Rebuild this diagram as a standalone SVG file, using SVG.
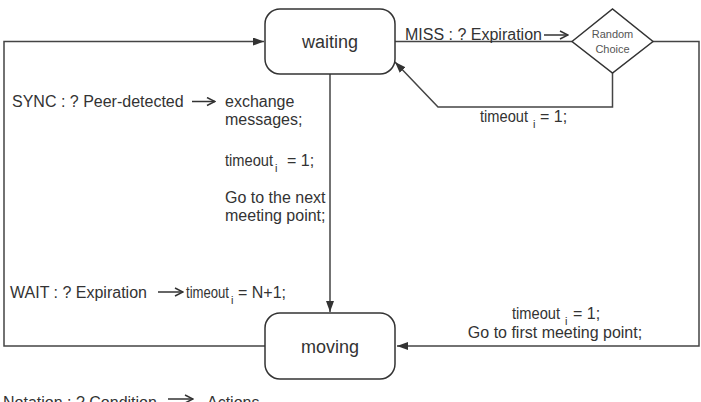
<svg xmlns="http://www.w3.org/2000/svg" width="701" height="402" viewBox="0 0 701 402">
<style>
.st{fill:#fff;stroke:#333;stroke-width:1.5}
.ln{fill:none;stroke:#444;stroke-width:1.5}
.ta{fill:none;stroke:#333;stroke-width:1.5}
text{font-family:"Liberation Sans",Arial,sans-serif;fill:#333}
.t{font-size:16px}
.s{font-size:11px}
.big{font-size:18px}
.sm{font-size:11px;fill:#555}
</style>
<defs>
<marker id="ah" markerUnits="userSpaceOnUse" markerWidth="12" markerHeight="8" refX="11" refY="4" orient="auto">
<path d="M0,0 L11,4 L0,8 z" fill="#333"/>
</marker>
<marker id="oa" markerUnits="userSpaceOnUse" markerWidth="10" markerHeight="10" refX="9" refY="5" orient="auto">
<path d="M1,1 L9,5 L1,9" fill="none" stroke="#333" stroke-width="1.5"/>
</marker>
</defs>
<g id="connectors">
<path class="ln" d="M265,346 L4,346 L4,41.5 L264,41.5" marker-end="url(#ah)"/>
<path class="ln" d="M330,74 L330,312" marker-end="url(#ah)"/>
<path class="ln" d="M395,41.5 L572,41.5"/>
<path class="ln" d="M612.5,73 L612.5,107 L438,107 L395,62" marker-end="url(#ah)"/>
<path class="ln" d="M653,41.5 L699,41.5 L699,346 L397,346" marker-end="url(#ah)"/>
</g>
<g id="waiting">
<rect class="st" x="265" y="9" width="130" height="65" rx="15"/>
<text class="big" x="330" y="48" text-anchor="middle">waiting</text>
</g>
<g id="moving">
<rect class="st" x="265" y="313" width="130" height="66" rx="15"/>
<text class="big" x="330" y="353" text-anchor="middle">moving</text>
</g>
<g id="random-choice">
<polygon class="st" points="572,41.5 612.5,9 653,41.5 612.5,73"/>
<text class="sm" x="612.5" y="38" text-anchor="middle">Random</text>
<text class="sm" x="612.5" y="53" text-anchor="middle">Choice</text>
</g>
<g id="labels">
<text class="t" x="12" y="107">SYNC : ? Peer-detected</text>
<path class="ta" d="M192,101.5 L215,101.5" marker-end="url(#oa)"/>
<text class="t" x="225" y="107">exchange</text>
<text class="t" x="225" y="125">messages;</text>
<text class="t" x="225" y="166" textLength="48" lengthAdjust="spacingAndGlyphs">timeout</text>
<text class="s" x="275" y="172">i</text>
<text class="t" x="287" y="166">= 1;</text>
<text class="t" x="225" y="203">Go to the next</text>
<text class="t" x="225" y="221">meeting point;</text>
<text class="t" x="10" y="298">WAIT : ? Expiration</text>
<path class="ta" d="M158,292 L183,292" marker-end="url(#oa)"/>
<text class="t" x="186" y="298" textLength="43" lengthAdjust="spacingAndGlyphs">timeout</text>
<text class="s" x="231" y="304">i</text>
<text class="t" x="238" y="298">= N+1;</text>
<text class="t" x="405" y="40">MISS : ? Expiration</text>
<path class="ta" d="M544,35 L568,35" marker-end="url(#oa)"/>
<text class="t" x="480" y="122" textLength="48" lengthAdjust="spacingAndGlyphs">timeout</text>
<text class="s" x="533" y="128">i</text>
<text class="t" x="540" y="122">= 1;</text>
<text class="t" x="512" y="319" textLength="48" lengthAdjust="spacingAndGlyphs">timeout</text>
<text class="s" x="565" y="325">i</text>
<text class="t" x="573" y="319">= 1;</text>
<text class="t" x="555" y="338" text-anchor="middle">Go to first meeting point;</text>
<text class="t" x="3" y="408">Notation : ? Condition</text>
<path class="ta" d="M168,399 L193,399" marker-end="url(#oa)"/>
<text class="t" x="207" y="408">Actions</text>
</g>
</svg>
